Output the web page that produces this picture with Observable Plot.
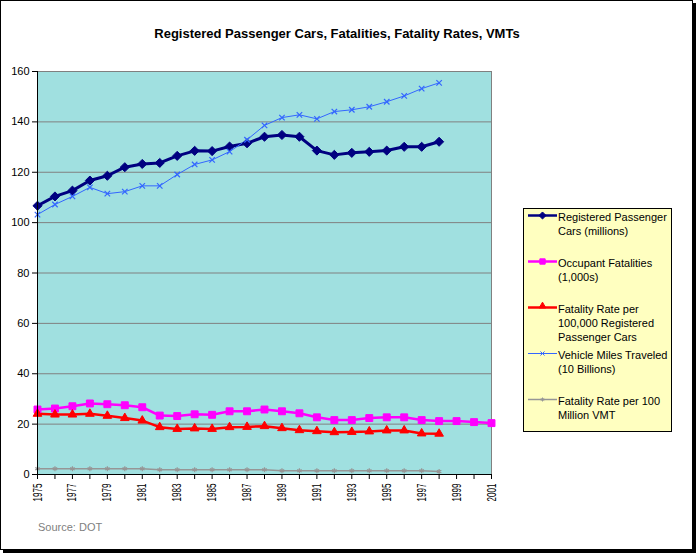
<!DOCTYPE html>
<html>
<head>
<meta charset="utf-8">
<script src="https://cdn.jsdelivr.net/npm/d3@7"></script>
<script src="https://cdn.jsdelivr.net/npm/@observablehq/plot@0.6"></script>
<style>
  html, body { margin: 0; padding: 0; background: #fff; }
  #wrap { position: relative; width: 698px; height: 557px; }
  #border {
    position: absolute; left: 0; top: 0; width: 691px; height: 548px;
    border: 1px solid #000; box-shadow: 3px 3px 0 #000; background: #fff;
  }
  #chart { position: absolute; left: 0; top: 0; }
</style>
</head>
<body>
<div id="wrap">
  <div id="border"></div>
  <div id="chart"></div>
</div>
<script>
// Years on the category axis
const years = [1975, 1976, 1977, 1978, 1979, 1980, 1981, 1982, 1983, 1984, 1985, 1986, 1987,
  1988, 1989, 1990, 1991, 1992, 1993, 1994, 1995, 1996, 1997, 1998, 1999, 2000, 2001];

// Registered passenger cars (millions), 1975–1998
const registeredCars = [106.7, 110.4, 112.7, 116.7, 118.6, 122.0, 123.3, 123.7, 126.5, 128.5, 128.4, 130.2,
  131.5, 134.1, 134.8, 134.1, 128.6, 126.9, 127.7, 128.1, 128.6, 130.1, 130.1, 132.1];

// Occupant fatalities (1,000s), 1975–2001
const occupantFatalities = [25.8, 26.2, 27.1, 28.2, 27.9, 27.5, 26.7, 23.4, 23.2, 23.9, 23.7, 25.1, 25.1,
  25.8, 25.1, 24.3, 22.7, 21.6, 21.6, 22.4, 22.7, 22.7, 21.6, 21.2, 21.2, 20.8, 20.4];

// Fatality rate per 100,000 registered passenger cars, 1975–1998
const fatalityRateCars = [24.1, 23.8, 23.8, 24.1, 23.3, 22.4, 21.4, 18.8, 18.1, 18.3, 18.1, 18.8,
  18.9, 19.2, 18.4, 17.6, 17.2, 16.8, 16.9, 17.1, 17.5, 17.5, 16.3, 16.2];

// Vehicle miles traveled (10 billions), 1975–1998
const vehicleMiles = [103.2, 107.2, 110.4, 114.0, 111.5, 112.3, 114.6, 114.6, 119.1, 123.1, 124.9, 128.2,
  132.9, 138.6, 141.7, 142.8, 141.2, 144.1, 144.8, 146.0, 148.0, 150.3, 153.2, 155.5];

// Fatality rate per 100 million VMT, 1975–1998
const fatalityRateVMT = [2.3, 2.3, 2.3, 2.3, 2.3, 2.3, 2.3, 1.9, 1.9, 1.9, 1.9, 1.9,
  1.9, 1.9, 1.5, 1.5, 1.5, 1.5, 1.5, 1.5, 1.5, 1.5, 1.5, 1.2];

// Value axis ticks
const yTicks = [0, 20, 40, 60, 80, 100, 120, 140, 160];

// Series names, as shown in the legend
const seriesNames = [
  ["Registered Passenger", "Cars (millions)"],
  ["Occupant Fatalities", "(1,000s)"],
  ["Fatality Rate per", "100,000 Registered", "Passenger Cars"],
  ["Vehicle Miles Traveled", "(10 Billions)"],
  ["Fatality Rate per 100", "Million VMT"]
];

const titleText = "Registered Passenger Cars, Fatalities, Fatality Rates, VMTs";
const sourceText = "Source: DOT";

// Drawing styles for each series (same order as seriesNames)
const styles = [
  {color: "#000080", width: 3, symbol: "diamond2", r: 4.1, fill: true},
  {color: "#ff00ff", width: 2.5, symbol: "square", r: 3.9, fill: true},
  {color: "#ff0000", width: 2.5, symbol: "triangle", r: 3.2, fill: true},
  {color: "#3366ff", width: 1, symbol: "times", r: 2.6, fill: false},
  {color: "#969696", width: 1.5, symbol: "asterisk", r: 2.4, fill: false}
];

const seriesValues = [registeredCars, occupantFatalities, fatalityRateCars, vehicleMiles, fatalityRateVMT];
const tables = seriesValues.map(vals => vals.map((v, i) => ({year: years[i], value: v})));

const seriesMarks = [];
tables.forEach((t, k) => {
  const s = styles[k];
  seriesMarks.push(Plot.lineY(t, {x: "year", y: "value", stroke: s.color, strokeWidth: s.width}));
});
tables.forEach((t, k) => {
  const s = styles[k];
  seriesMarks.push(Plot.dot(t, {
    x: "year", y: "value", symbol: () => s.symbol, r: s.r,
    fill: s.fill ? s.color : "none", stroke: s.color, strokeWidth: s.fill ? 1 : 1.2
  }));
});

const chart = Plot.plot({
  width: 698,
  height: 557,
  marginLeft: 37,
  marginRight: 207,
  marginTop: 71,
  marginBottom: 83,
  style: {fontFamily: "'Liberation Sans', Arial, sans-serif", fontSize: "11px", color: "#000", background: "transparent", overflow: "visible"},
  x: {domain: [1975, 2001]},
  y: {domain: [0, 160]},
  symbol: {type: "identity"},
  marks: [
    Plot.frame({fill: "#a0e0e0", stroke: "#808080"}),
    Plot.gridY(yTicks.filter(d => d > 0), {stroke: "#808080", strokeOpacity: 1}),
    ...seriesMarks,
    Plot.ruleX([1975], {stroke: "#000"}),
    Plot.ruleY([0], {stroke: "#000"}),
    Plot.axisY(yTicks, {tickSize: 5, tickPadding: 3, tickFormat: d => String(d), label: null}),
    Plot.axisX(years, {tickSize: 5, tickPadding: 4, tickRotate: -90, label: null,
      tickFormat: d => (d % 2 === 1 ? String(d) : "")})
  ]
});

document.getElementById("chart").appendChild(chart);

const svg = d3.select(chart);

// rotated year labels: a touch larger, compressed along their length
svg.selectAll("g[aria-label='x-axis tick label'] text").each(function () {
  if (this.textContent) {
    this.setAttribute("font-size", 12.5);
    this.setAttribute("textLength", 18);
    this.setAttribute("lengthAdjust", "spacingAndGlyphs");
  }
});

// Title
svg.append("text")
  .attr("x", 337).attr("y", 38)
  .attr("text-anchor", "middle")
  .attr("font-weight", "bold").attr("font-size", 13)
  .text(titleText);

// Source note
svg.append("text")
  .attr("x", 38).attr("y", 531)
  .attr("text-anchor", "start")
  .attr("fill", "#808080").attr("font-size", 11)
  .text(sourceText);

// Legend
const lg = svg.append("g").attr("text-anchor", "start");
lg.append("rect")
  .attr("x", 523.5).attr("y", 208.5).attr("width", 148).attr("height", 223)
  .attr("fill", "#ffffc0").attr("stroke", "#000");

const symbolMap = {
  diamond2: d3.symbolDiamond2, square: d3.symbolSquare, triangle: d3.symbolTriangle,
  times: d3.symbolTimes, asterisk: d3.symbolAsterisk
};

seriesNames.forEach((lines, k) => {
  const s = styles[k];
  const ty = 217 + k * 46;
  const ly = ty - 1.5;
  lg.append("line")
    .attr("x1", 528).attr("x2", 557).attr("y1", ly).attr("y2", ly)
    .attr("stroke", s.color).attr("stroke-width", Math.min(s.width, 2.5));
  lg.append("path")
    .attr("transform", `translate(542.5,${s.symbol === "triangle" ? ly - 1.5 : ly})`)
    .attr("d", d3.symbol(symbolMap[s.symbol], Math.PI * s.r * s.r * 0.6)())
    .attr("fill", s.fill ? s.color : "none")
    .attr("stroke", s.color).attr("stroke-width", 1);
  lines.forEach((t, j) => {
    lg.append("text")
      .attr("x", 558).attr("y", ty + j * 14)
      .attr("dy", "0.35em").attr("font-size", 11)
      .text(t);
  });
});
</script>
</body>
</html>
